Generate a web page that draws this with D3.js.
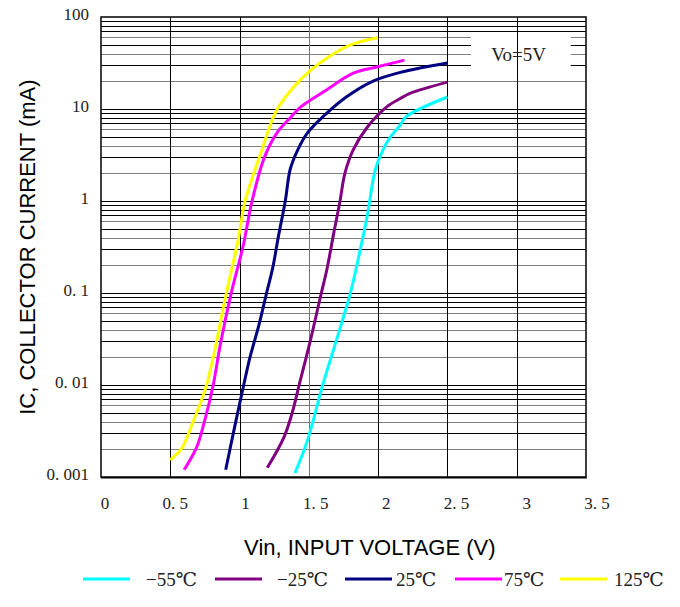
<!DOCTYPE html>
<html>
<head>
<meta charset="utf-8">
<script src="https://cdn.jsdelivr.net/npm/d3@7"></script>
<style>
  body { margin: 0; background: white; }
  svg { display: block; }
</style>
</head>
<body>
<div id="chart"></div>
<script>
// data (Vin in V, Ic in mA)
var seriesNames = ['\u221255\u2103', '\u221225\u2103', '25\u2103', '75\u2103', '125\u2103'];
var seriesColors = ['#00ffff', '#800080', '#000080', '#ff00ff', '#ffff00'];

var vinM55 = [1.40, 1.49, 1.60, 1.70, 1.80, 1.855, 1.92, 1.98, 2.035, 2.09, 2.16, 2.20, 2.50];
var icM55  = [0.0011, 0.0025, 0.01, 0.031, 0.1, 0.23, 0.67, 2.2, 3.6, 5.0, 6.7, 8.2, 13.5];

var vinM25 = [1.20, 1.32, 1.38, 1.43, 1.51, 1.59, 1.63, 1.68, 1.725, 1.76, 1.82, 1.92, 2.06, 2.16, 2.23, 2.50];
var icM25  = [0.00126, 0.0027, 0.005, 0.01, 0.03, 0.1, 0.18, 0.45, 1.0, 2.0, 3.6, 6.3, 10.5, 13.0, 14.8, 19.6];

var vin25 = [0.90, 0.955, 1.03, 1.075, 1.14, 1.195, 1.24, 1.28, 1.33, 1.365, 1.42, 1.49, 1.60, 1.77, 1.96, 2.16, 2.50];
var ic25  = [0.0012, 0.003, 0.01, 0.02, 0.045, 0.1, 0.19, 0.41, 1.0, 2.2, 3.6, 5.5, 8.2, 13.5, 20, 25, 31.6];

var vin75 = [0.60, 0.69, 0.75, 0.81, 0.86, 0.94, 1.025, 1.09, 1.18, 1.27, 1.365, 1.44, 1.63, 1.82, 1.99, 2.19];
var ic75  = [0.0012, 0.0021, 0.0042, 0.01, 0.027, 0.1, 0.32, 1.0, 3.0, 5.5, 8.0, 10.5, 16.2, 24.5, 28.6, 34];

var vin125 = [0.50, 0.585, 0.665, 0.762, 0.905, 0.99, 1.04, 1.15, 1.27, 1.436, 1.58, 1.80, 2.00];
var ic125  = [0.00153, 0.00207, 0.0040, 0.01, 0.1, 0.38, 1.0, 3.2, 9.8, 20.6, 31.6, 49.7, 59.6];

var xTicks = [0, 0.5, 1, 1.5, 2, 2.5, 3, 3.5];
var xTickLabels = ['0', '0. 5', '1', '1. 5', '2', '2. 5', '3', '3. 5'];
var yTicks = [0.001, 0.01, 0.1, 1, 10, 100];
var yTickLabels = ['0. 001', '0. 01', '0. 1', '1', '10', '100'];

var series = [
  {x: vinM55, y: icM55},
  {x: vinM25, y: icM25},
  {x: vin25, y: ic25},
  {x: vin75, y: ic75},
  {x: vin125, y: ic125}
];

var width = 680, height = 607;
var margin = {left: 101, right: 94, top: 17, bottom: 130};
var serif = '"Liberation Serif", "DejaVu Serif", serif';
var sans = '"Liberation Sans", Arial, sans-serif';

var svg = d3.select('#chart').append('svg')
  .attr('width', width)
  .attr('height', height);

var x = d3.scaleLinear()
  .domain([0, 3.5])
  .range([margin.left, width - margin.right]);

var y = d3.scaleLog()
  .domain([0.001, 100])
  .range([height - margin.bottom, margin.top]);

// labels in the reference drift slightly to the right of their gridlines
var xLab = d3.scaleLinear().domain([0, 3.5]).range([margin.left + 4, width - margin.right + 11]);

// horizontal log grid
var minor = [];
for (var e = -3; e < 2; e++) {
  for (var m = 1; m <= 9; m++) minor.push({v: m * Math.pow(10, e), m: m});
}
var grid = svg.append('g');
grid.selectAll('.hgrid')
  .data(minor)
  .enter().append('line')
  .attr('class', 'hgrid')
  .attr('x1', x(0)).attr('x2', x(3.5))
  .attr('y1', function(d){ return Math.round(y(d.v)) + 0.5; })
  .attr('y2', function(d){ return Math.round(y(d.v)) + 0.5; })
  .attr('stroke', function(d){ return (d.m === 2 || d.m === 4 || d.m === 6) ? '#808080' : '#000'; })
  .attr('stroke-width', 1);

// Vo=5V label box
var boxLeft = x(2.67), boxRight = x(3.39);
svg.append('rect')
  .attr('x', boxLeft).attr('y', y(62))
  .attr('width', boxRight - boxLeft)
  .attr('height', y(24) - y(62))
  .attr('fill', 'white');

// vertical grid
grid = svg.append('g');
grid.selectAll('.vgrid')
  .data(xTicks.slice(1, -1))
  .enter().append('line')
  .attr('class', 'vgrid')
  .attr('x1', function(d){ return Math.round(x(d)) + 0.5; })
  .attr('x2', function(d){ return Math.round(x(d)) + 0.5; })
  .attr('y1', y(100)).attr('y2', y(0.001))
  .attr('stroke', function(d){ return d === 1.5 ? '#777' : '#000'; })
  .attr('stroke-width', 1);

svg.append('text')
  .attr('x', x(3.0) + 2)
  .attr('y', y(40) + 7)
  .attr('text-anchor', 'middle')
  .attr('font-family', serif)
  .attr('font-size', 19)
  .attr('fill', '#222')
  .text('Vo=5V');

// frame
svg.append('rect')
  .attr('x', x(0)).attr('y', y(100))
  .attr('width', x(3.5) - x(0))
  .attr('height', y(0.001) - y(100))
  .attr('fill', 'none')
  .attr('stroke', '#000')
  .attr('stroke-width', 1.5);
svg.append('line')
  .attr('x1', x(0)).attr('x2', x(3.5) + 1)
  .attr('y1', y(0.001) + 1).attr('y2', y(0.001) + 1)
  .attr('stroke', '#000').attr('stroke-width', 1);

// curves
var line = d3.line()
  .x(function(d){ return x(d[0]); })
  .y(function(d){ return y(d[1]); })
  .curve(d3.curveCatmullRom.alpha(0.5));

series.forEach(function(s, i) {
  var pts = s.x.map(function(v, j){ return [v, s.y[j]]; });
  svg.append('path')
    .datum(pts)
    .attr('d', line)
    .attr('fill', 'none')
    .attr('stroke', seriesColors[i])
    .attr('stroke-width', 3)
    .attr('stroke-linejoin', 'round');
});

// tick labels
svg.selectAll('.ylab')
  .data(yTicks)
  .enter().append('text')
  .attr('class', 'ylab')
  .attr('x', margin.left - 12)
  .attr('y', function(d){ return y(d) - 3; })
  .attr('dy', '0.35em')
  .attr('text-anchor', 'end')
  .attr('font-family', serif)
  .attr('font-size', 17)
  .attr('fill', '#222')
  .text(function(d, i){ return yTickLabels[i]; });

svg.selectAll('.xlab')
  .data(xTicks)
  .enter().append('text')
  .attr('class', 'xlab')
  .attr('x', function(d){ return xLab(d); })
  .attr('y', y(0.001) + 26)
  .attr('dy', '0.35em')
  .attr('text-anchor', 'middle')
  .attr('font-family', serif)
  .attr('font-size', 17)
  .attr('fill', '#222')
  .text(function(d, i){ return xTickLabels[i]; });

// axis titles
svg.append('text')
  .attr('transform', 'translate(35,' + (y(0.3) - 2) + ') rotate(-90)')
  .attr('text-anchor', 'middle')
  .attr('font-family', sans)
  .attr('font-size', 22)
  .attr('fill', '#000')
  .text('IC, COLLECTOR CURRENT (mA)');

svg.append('text')
  .attr('x', x(1.94))
  .attr('y', 555)
  .attr('text-anchor', 'middle')
  .attr('font-family', sans)
  .attr('font-size', 22)
  .attr('fill', '#000')
  .text('Vin, INPUT VOLTAGE (V)');

// legend
var legendLineX = [83, 215, 345, 455, 560];
var legendGap = [16, 15, 4, 2, 7];
var legend = svg.append('g').attr('transform', 'translate(0,579)');
seriesNames.forEach(function(name, i) {
  legend.append('line')
    .attr('x1', legendLineX[i]).attr('x2', legendLineX[i] + 47)
    .attr('y1', 0).attr('y2', 0)
    .attr('stroke', seriesColors[i])
    .attr('stroke-width', 3);
  legend.append('text')
    .attr('x', legendLineX[i] + 47 + legendGap[i])
    .attr('y', 0)
    .attr('dy', '0.35em')
    .attr('font-family', serif)
    .attr('font-size', 19)
    .attr('fill', '#222')
    .text(name);
});
</script>
</body>
</html>
